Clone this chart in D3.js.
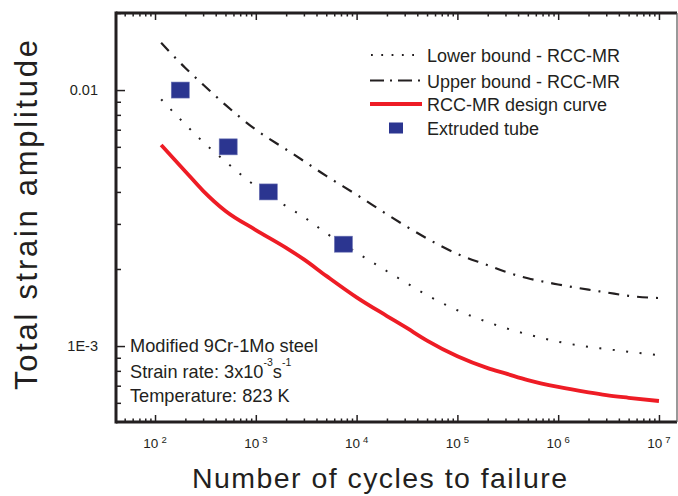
<!DOCTYPE html>
<html>
<head>
<meta charset="utf-8">
<script src="https://cdn.jsdelivr.net/npm/d3@7"></script>
<style>
  html, body { margin: 0; padding: 0; background: #fff; }
  svg { display: block; font-family: "Liberation Sans", Arial, sans-serif; }
</style>
</head>
<body>
<svg id="chart" width="678" height="496"></svg>
<script>
// ---- data ----
const cycles = [115, 200, 300, 500, 1e3, 2e3, 3e3, 5e3, 1e4, 2e4, 3e4, 5e4, 1e5, 2e5, 3e5, 5e5, 1e6, 2e6, 3e6, 5e6, 1e7];
const upperBound = [0.0153, 0.0122, 0.0105, 0.00875, 0.0070, 0.00586, 0.00528, 0.00462, 0.0039, 0.00327, 0.00296, 0.00263, 0.00229, 0.00207, 0.00195, 0.00184, 0.00174, 0.00166, 0.00162, 0.00157, 0.00154];
const lowerBound = [0.0092, 0.00734, 0.00627, 0.00526, 0.00421, 0.00352, 0.00319, 0.00276, 0.00232, 0.00196, 0.00178, 0.00158, 0.00138, 0.00124, 0.001176, 0.00111, 0.00104, 0.000993, 0.000973, 0.00095, 0.00092];
const designCurve = [0.0061, 0.00481, 0.00404, 0.00337, 0.00284, 0.00242, 0.00218, 0.00188, 0.00155, 0.00131, 0.00119, 0.00105, 0.000912, 0.00082, 0.000782, 0.000736, 0.000692, 0.000659, 0.000643, 0.000628, 0.00061];
const tubeCycles = [178, 532, 1330, 7400];
const tubeStrain = [0.01, 0.006, 0.004, 0.0025];

const xTickValues = [1e2, 1e3, 1e4, 1e5, 1e6, 1e7];
const xTickExponents = ["2", "3", "4", "5", "6", "7"];
const yTickValues = [0.001, 0.01];
const yTickLabels = ["1E-3", "0.01"];

const legendLabels = ["Lower bound - RCC-MR", "Upper bound - RCC-MR", "RCC-MR design curve", "Extruded tube"];
const noteLines = ["Modified 9Cr-1Mo steel", "Strain rate: 3x10", "Temperature: 823 K"];
const xTitle = "Number of cycles to failure";
const yTitle = "Total strain amplitude";

// ---- layout ----
const ink = "#231f20";
const red = "#ee1c25";
const blue = "#2b3590";
const pL = 116, pR = 677, pT = 13, pB = 422;

const svg = d3.select("#chart");
svg.append("rect").attr("width", 678).attr("height", 496).attr("fill", "#fff");

const x = d3.scaleLog().domain([41, 1.51e7]).range([pL, pR]);
const y = d3.scaleLog().domain([5.05e-4, 0.02]).range([pB, pT]);

// minor ticks from the scale
const xMinor = x.ticks().filter(v => !xTickValues.includes(v));
const yMinor = y.ticks().filter(v => !yTickValues.some(t => Math.abs(t - v) < 1e-12));

function axisStyle(g) {
  g.select(".domain").remove();
  g.selectAll(".tick line").attr("stroke", ink).attr("stroke-width", 1.5);
}

// bottom axis (ticks inward)
svg.append("g").attr("transform", `translate(0,${pB})`)
  .call(d3.axisBottom(x).tickValues(xTickValues).tickSize(-7).tickFormat(""))
  .call(axisStyle);
svg.append("g").attr("transform", `translate(0,${pB})`)
  .call(d3.axisBottom(x).tickValues(xMinor).tickSize(-3.5).tickFormat(""))
  .call(axisStyle);
// top axis
svg.append("g").attr("transform", `translate(0,${pT})`)
  .call(d3.axisTop(x).tickValues(xTickValues).tickSize(-7).tickFormat(""))
  .call(axisStyle);
svg.append("g").attr("transform", `translate(0,${pT})`)
  .call(d3.axisTop(x).tickValues(xMinor).tickSize(-3.5).tickFormat(""))
  .call(axisStyle);
// left axis
svg.append("g").attr("transform", `translate(${pL},0)`)
  .call(d3.axisLeft(y).tickValues(yTickValues).tickSize(-9).tickFormat(""))
  .call(axisStyle);
svg.append("g").attr("transform", `translate(${pL},0)`)
  .call(d3.axisLeft(y).tickValues(yMinor).tickSize(-5).tickFormat(""))
  .call(axisStyle);

// frame
svg.append("line").attr("x1", pL).attr("x2", pL).attr("y1", pT - 1.5).attr("y2", pB + 1.5)
  .attr("stroke", ink).attr("stroke-width", 3);
svg.append("line").attr("x1", pL).attr("x2", pR).attr("y1", pT).attr("y2", pT)
  .attr("stroke", ink).attr("stroke-width", 3);
svg.append("line").attr("x1", pL).attr("x2", pR).attr("y1", pB).attr("y2", pB)
  .attr("stroke", ink).attr("stroke-width", 3);
svg.append("line").attr("x1", pR).attr("x2", pR).attr("y1", pT).attr("y2", pB)
  .attr("stroke", "#555").attr("stroke-width", 1.2);

// x tick labels: 10^n
const xl = svg.append("g");
xTickValues.forEach((v, i) => {
  const t = xl.append("text").attr("x", x(v)).attr("y", 448)
    .attr("text-anchor", "middle").attr("fill", ink).attr("font-size", 13.5);
  t.append("tspan").text("10");
  t.append("tspan").attr("dx", 3).attr("dy", -5).attr("font-size", 9.5).text(xTickExponents[i]);
});

// y tick labels
svg.append("g").selectAll("text").data(yTickValues).join("text")
  .attr("x", 98).attr("y", d => y(d)).attr("dy", "0.36em")
  .attr("text-anchor", "end").attr("fill", ink).attr("font-size", 14.5)
  .text((d, i) => yTickLabels[i]);

// axis titles
svg.append("text").attr("x", 379.5).attr("y", 488).attr("text-anchor", "middle")
  .attr("fill", ink).attr("font-size", 28.5)
  .attr("textLength", 375).attr("lengthAdjust", "spacing")
  .text(xTitle);
svg.append("text").attr("transform", "translate(37,215) rotate(-90)")
  .attr("text-anchor", "middle").attr("fill", ink).attr("font-size", 31)
  .attr("textLength", 350).attr("lengthAdjust", "spacing")
  .text(yTitle);

// ---- series ----
const line = d3.line().x(d => x(d[0])).y(d => y(d[1])).curve(d3.curveMonotoneX);

svg.append("path").datum(cycles.map((c, i) => [c, lowerBound[i]]))
  .attr("d", line).attr("fill", "none").attr("stroke", ink)
  .attr("stroke-width", 2).attr("stroke-dasharray", "2,11.5");
svg.append("path").datum(cycles.map((c, i) => [c, upperBound[i]]))
  .attr("d", line).attr("fill", "none").attr("stroke", ink)
  .attr("stroke-width", 2.2).attr("stroke-dasharray", "11,8,2,8");
svg.append("path").datum(cycles.map((c, i) => [c, designCurve[i]]))
  .attr("d", line).attr("fill", "none").attr("stroke", red)
  .attr("stroke-width", 3.8);

svg.append("g").selectAll("rect").data(tubeCycles.map((c, i) => [c, tubeStrain[i]])).join("rect")
  .attr("x", d => x(d[0]) - 9).attr("y", d => y(d[1]) - 8)
  .attr("width", 18).attr("height", 16)
  .attr("fill", blue).attr("stroke", "#6d73b4").attr("stroke-width", 0.6);

// ---- legend ----
const lg = svg.append("g");
const rowsY = [55, 80.5, 104, 128];
lg.append("line").attr("x1", 371).attr("x2", 422).attr("y1", rowsY[0]).attr("y2", rowsY[0])
  .attr("stroke", ink).attr("stroke-width", 1.8).attr("stroke-dasharray", "1.8,8.5");
lg.append("line").attr("x1", 370).attr("x2", 422).attr("y1", rowsY[1]).attr("y2", rowsY[1])
  .attr("stroke", ink).attr("stroke-width", 2.2).attr("stroke-dasharray", "14,6,2,6");
lg.append("line").attr("x1", 370).attr("x2", 422).attr("y1", rowsY[2]).attr("y2", rowsY[2])
  .attr("stroke", red).attr("stroke-width", 3.8);
lg.append("rect").attr("x", 389).attr("y", rowsY[3] - 5.5).attr("width", 14).attr("height", 11)
  .attr("fill", blue);
lg.selectAll("text").data(legendLabels).join("text")
  .attr("x", 427).attr("y", (d, i) => rowsY[i] + 7)
  .attr("fill", ink).attr("font-size", 18).text(d => d);

// ---- annotation ----
const note = svg.append("g").attr("fill", ink).attr("font-size", 18.2);
note.append("text").attr("x", 130).attr("y", 352).text(noteLines[0]);
const sr = note.append("text").attr("x", 130).attr("y", 378);
sr.append("tspan").text(noteLines[1]);
sr.append("tspan").attr("dy", -12).attr("font-size", 10.5).text("-3");
sr.append("tspan").attr("dy", 12).text("s");
sr.append("tspan").attr("dy", -12).attr("font-size", 10.5).text("-1");
note.append("text").attr("x", 130).attr("y", 402).text(noteLines[2]);
</script>
</body>
</html>
